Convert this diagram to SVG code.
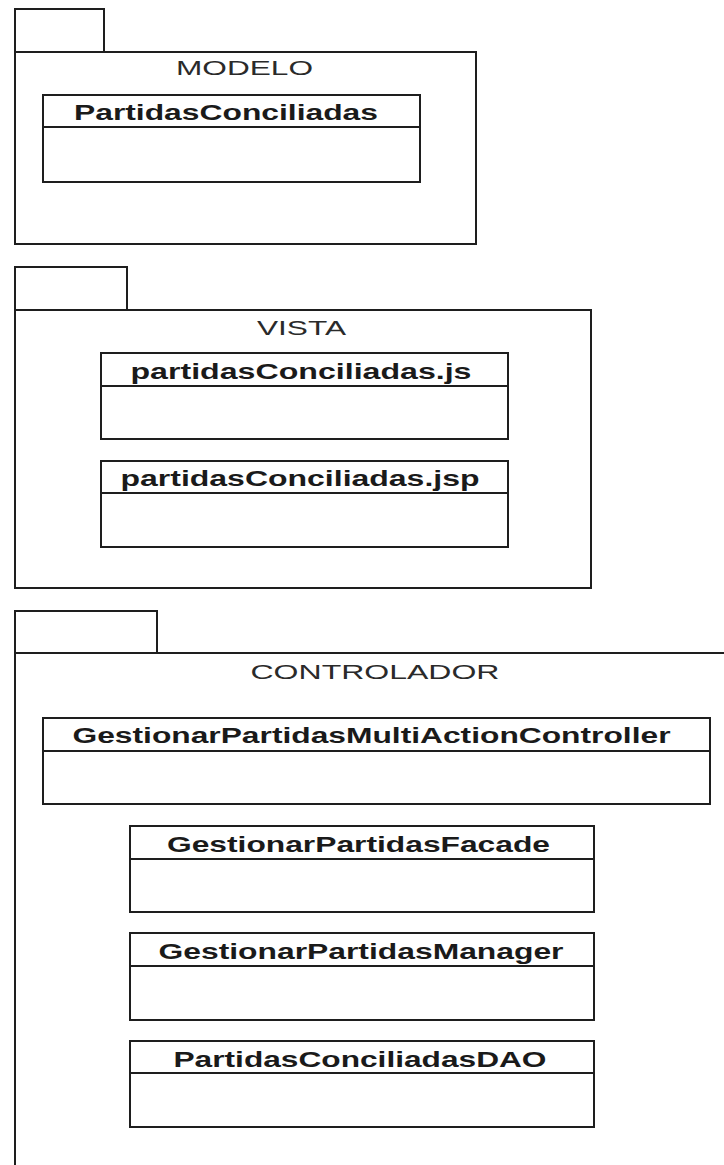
<svg xmlns="http://www.w3.org/2000/svg" width="724" height="1165" viewBox="0 0 724 1165">
  <style>
    .bg { fill: #ffffff; }
    .frame { fill: #ffffff; stroke: #1e1e1e; stroke-width: 2; }
    .line { stroke: #1e1e1e; stroke-width: 2; fill: none; }
    .pkg { font-family: "Liberation Sans", Arial, sans-serif; font-size: 21px; fill: #2a2a2a; }
    .cls { font-family: "Liberation Sans", Arial, sans-serif; font-size: 22px; font-weight: bold; fill: #1a1a1a; }
  </style>
  <rect class="bg" x="0" y="0" width="724" height="1165"/>

  <!-- Package: MODELO -->
  <g id="pkg-modelo">
    <rect class="frame" x="15" y="9" width="89" height="43"/>
    <rect class="frame" x="15" y="52" width="461" height="192"/>
    <text class="pkg" x="176" y="74.5" textLength="137" lengthAdjust="spacingAndGlyphs">MODELO</text>
  </g>
  <g id="cls-partidasconciliadas">
    <rect class="frame" x="43" y="95" width="377" height="87"/>
    <line class="line" x1="43" y1="127" x2="420" y2="127"/>
    <text class="cls" x="74" y="120" textLength="304" lengthAdjust="spacingAndGlyphs">PartidasConciliadas</text>
  </g>

  <!-- Package: VISTA -->
  <g id="pkg-vista">
    <rect class="frame" x="15" y="267" width="112" height="43"/>
    <rect class="frame" x="15" y="310" width="576" height="278"/>
    <text class="pkg" x="257" y="335" textLength="89" lengthAdjust="spacingAndGlyphs">VISTA</text>
  </g>
  <g id="cls-js">
    <rect class="frame" x="101" y="353" width="407" height="86"/>
    <line class="line" x1="101" y1="386" x2="508" y2="386"/>
    <text class="cls" x="130.5" y="378.5" textLength="341" lengthAdjust="spacingAndGlyphs">partidasConciliadas.js</text>
  </g>
  <g id="cls-jsp">
    <rect class="frame" x="101" y="461" width="407" height="86"/>
    <line class="line" x1="101" y1="493" x2="508" y2="493"/>
    <text class="cls" x="120.5" y="486" textLength="359" lengthAdjust="spacingAndGlyphs">partidasConciliadas.jsp</text>
  </g>

  <!-- Package: CONTROLADOR (body runs past the right and bottom edges) -->
  <g id="pkg-controlador">
    <rect class="frame" x="15" y="611" width="142" height="42"/>
    <rect class="frame" x="15" y="653" width="760" height="600"/>
    <text class="pkg" x="250.5" y="679" textLength="249" lengthAdjust="spacingAndGlyphs">CONTROLADOR</text>
  </g>
  <g id="cls-multiaction">
    <rect class="frame" x="43" y="718" width="667" height="86"/>
    <line class="line" x1="43" y1="751" x2="710" y2="751"/>
    <text class="cls" x="72.5" y="743" textLength="598" lengthAdjust="spacingAndGlyphs">GestionarPartidasMultiActionController</text>
  </g>
  <g id="cls-facade">
    <rect class="frame" x="130" y="826" width="464" height="86"/>
    <line class="line" x1="130" y1="859" x2="594" y2="859"/>
    <text class="cls" x="167" y="852" textLength="383" lengthAdjust="spacingAndGlyphs">GestionarPartidasFacade</text>
  </g>
  <g id="cls-manager">
    <rect class="frame" x="130" y="933" width="464" height="87"/>
    <line class="line" x1="130" y1="966" x2="594" y2="966"/>
    <text class="cls" x="158.5" y="958.5" textLength="405" lengthAdjust="spacingAndGlyphs">GestionarPartidasManager</text>
  </g>
  <g id="cls-dao">
    <rect class="frame" x="130" y="1041" width="464" height="86"/>
    <line class="line" x1="130" y1="1073" x2="594" y2="1073"/>
    <text class="cls" x="173.5" y="1066.5" textLength="373" lengthAdjust="spacingAndGlyphs">PartidasConciliadasDAO</text>
  </g>

  <g id="connectors"/>
</svg>
